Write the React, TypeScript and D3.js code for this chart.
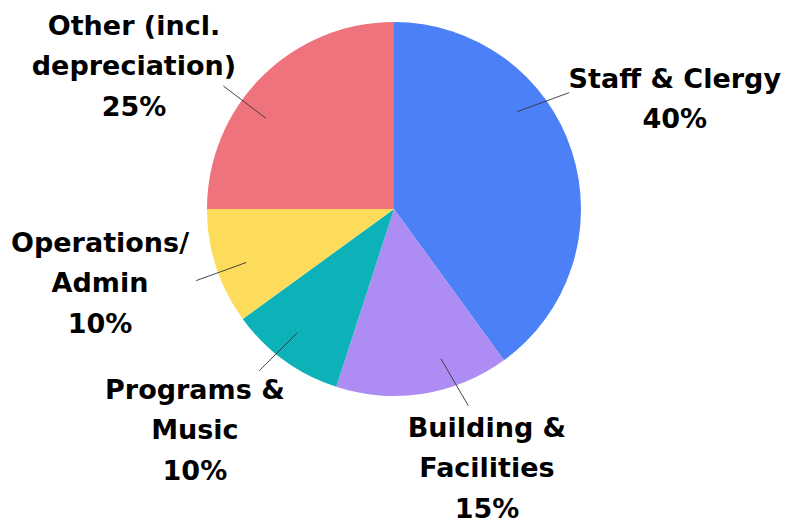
import React from "react";
import * as d3 from "d3";

// ---- data ----
const categories = ["Staff & Clergy", "Building & Facilities", "Programs & Music", "Operations/ Admin", "Other (incl. depreciation)"];
const values = [40, 15, 10, 10, 25];
const colors = ["#4c80f6", "#ad8df3", "#0db2b9", "#fedc5b", "#ef737d"];
const labelLines = [
  ["Staff & Clergy"],
  ["Building &", "Facilities"],
  ["Programs &", "Music"],
  ["Operations/", "Admin"],
  ["Other (incl.", "depreciation)"],
];

// ---- layout (degrees clockwise from 12 o'clock) ----
const labelAngle = [68.4, 160.2, 222.1, 256, 298.9];
const labelRadius = [302, 274.5, 297, 303, 297];
const lineStartAngle = [51.7, 162.6, 218, 250.1, 305.3];
const lineEndAngle = [56.4, 159.3, 219.8, 250.1, 305.8];

const W = 786, H = 523;
const cx = 394, cy = 209, R = 187;
const FS = 27, LH = 40.5, CAP = 20;

function polar(deg: number, r: number): [number, number] {
  const a = (deg * Math.PI) / 180;
  return [cx + Math.sin(a) * r, cy - Math.cos(a) * r];
}

export default function App() {
  const pie = d3.pie<number>().sort(null).value((d) => d)(values);
  const arc = d3.arc<d3.PieArcDatum<number>>().innerRadius(0).outerRadius(R);
  return (
    <svg width={W} height={H} style={{ position: "absolute", left: 0, top: 0, background: "#fff" }}
      fontFamily="'DejaVu Sans', sans-serif">
      <g transform={`translate(${cx},${cy})`}>
        {pie.map((p, i) => (
          <path key={i} d={arc(p) || ""} fill={colors[i]} />
        ))}
      </g>
      {values.map((v, i) => {
        const [x1, y1] = polar(lineStartAngle[i], R * 0.84);
        const [x2, y2] = polar(lineEndAngle[i], R * 1.125);
        return <line key={i} x1={x1} y1={y1} x2={x2} y2={y2} stroke="#333" strokeWidth={0.9} />;
      })}
      {values.map((v, i) => {
        const lines = [...labelLines[i], `${v}%`];
        const [lx, ly] = polar(labelAngle[i], labelRadius[i]);
        const n = lines.length;
        const first = ly + CAP / 2 - ((n - 1) * LH) / 2;
        return (
          <text key={i} x={lx} textAnchor="middle" fontSize={FS} fontWeight="bold" fill="#000">
            {lines.map((t, j) => (
              <tspan key={j} x={lx} y={first + j * LH}>{t}</tspan>
            ))}
          </text>
        );
      })}
    </svg>
  );
}
